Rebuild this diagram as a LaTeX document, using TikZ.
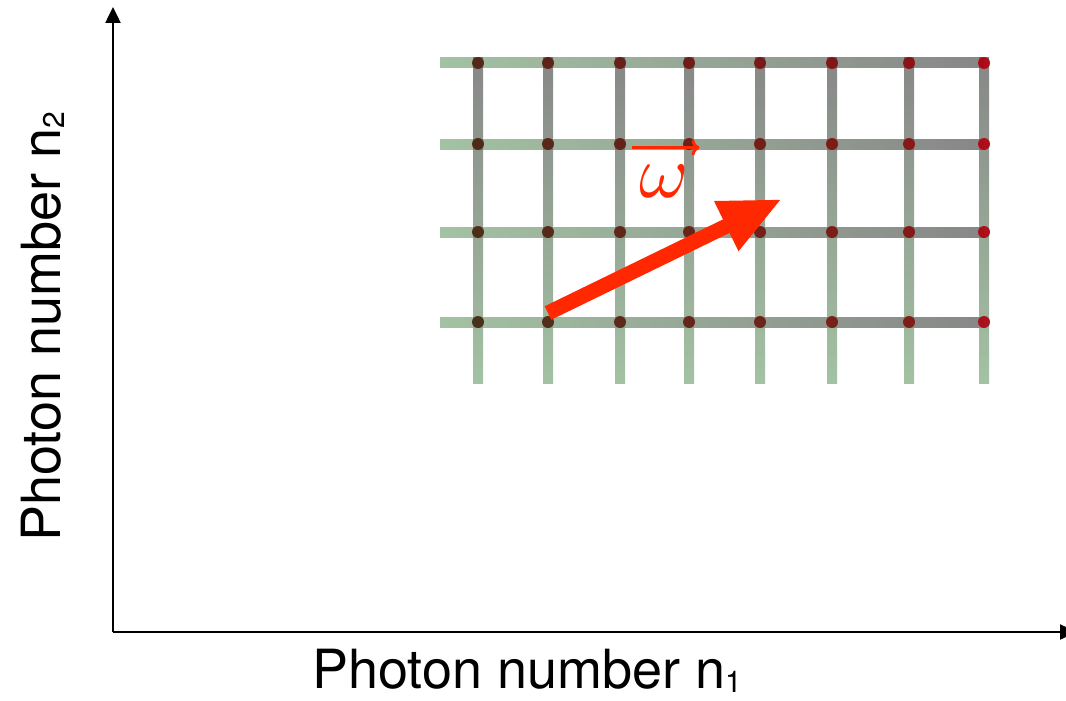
\documentclass[tikz,border=0pt]{standalone}
\usepackage{fix-cm}
\usepackage{fontspec}
\usepackage{tikz}
\usetikzlibrary{arrows.meta,calc}
\newfontfamily\axisfont{TeX Gyre Heros}
\font\omegafont=cmmi10 at 75pt
\definecolor{gridgreen}{RGB}{124,168,124}
\definecolor{gridgray}{RGB}{84,84,84}
\definecolor{dotbrown}{RGB}{68,36,16}
\definecolor{dotred}{RGB}{180,0,15}
\definecolor{vecred}{RGB}{255,40,0}

\begin{document}
\begin{tikzpicture}[
    x=1pt,y=-1pt,
    axis/.style={line width=2.5pt,-{Triangle[length=16pt,width=15pt]}},
    bar/.style={transparency group,opacity=0.7},
    hbar/.style={left color=gridgreen,right color=gridgray},
    vbar/.style={top color=gridgray,bottom color=gridgreen},
    site/.style={circle,inner sep=0pt,minimum size=12pt,opacity=0.9},
    axislabel/.style={font=\axisfont\fontsize{54}{54}\selectfont,inner sep=0pt},
    omegalabel/.style={font=\omegafont,text=vecred,inner sep=0pt},
    bigarrow/.style={vecred,line width=15pt,-{Triangle[length=62pt,width=51pt]}},
    vecarrow/.style={vecred,line width=3pt,-{To[length=8pt,width=16pt]}}
]
    \useasboundingbox (0,0) rectangle (1066,701);

    % Axes
    \coordinate (origin) at (113,632);
    \coordinate (ytop) at (113,7);
    \coordinate (xend) at (1076,632);
    \draw[axis] (origin) -- (ytop);
    \draw[axis] (origin) -- (xend);

    \node[axislabel,anchor=base] (xlabel) at (527,688) {Photon number n\raisebox{-4pt}{\fontsize{30}{30}\selectfont 1}};
    \node[axislabel,anchor=base,rotate=90] (ylabel) at (60,327) {Photon number n\raisebox{-4pt}{\fontsize{30}{30}\selectfont 2}};

    % Lattice
    \foreach \y in {63,144,232,322}
    {
        \begin{scope}[bar]
            \shade[hbar] (440,\y-5) rectangle (984,\y+5);
        \end{scope}
    }
    \foreach \x in {478,548,620,689,760,832,909,984}
    {
        \begin{scope}[bar]
            \shade[vbar] (\x-5,58) rectangle (\x+5,383);
        \end{scope}
    }
    \foreach \x [count=\i from 0] in {478,548,620,689,760,832,909,984}
        \foreach \y [count=\j from 0] in {322,232,144,63}
        {
            \pgfmathtruncatemacro{\mix}{min(100,\i*9+\j*4+(\i==7)*30)}
            \node[site,fill=dotred!\mix!dotbrown] (site-\i-\j) at (\x,\y) {};
        }

    % Frequency vector
    \coordinate (omegatail) at (548,313);
    \coordinate (omegahead) at (782,199);
    \draw[bigarrow] (omegatail) -- (omegahead);

    \node[omegalabel] (omega) at (663,181) {\char"21};
    \draw[vecarrow] ([shift={(-7,-17)}]omega.north west) -- ([shift={(13,-17)}]omega.north east);
\end{tikzpicture}
\end{document}
